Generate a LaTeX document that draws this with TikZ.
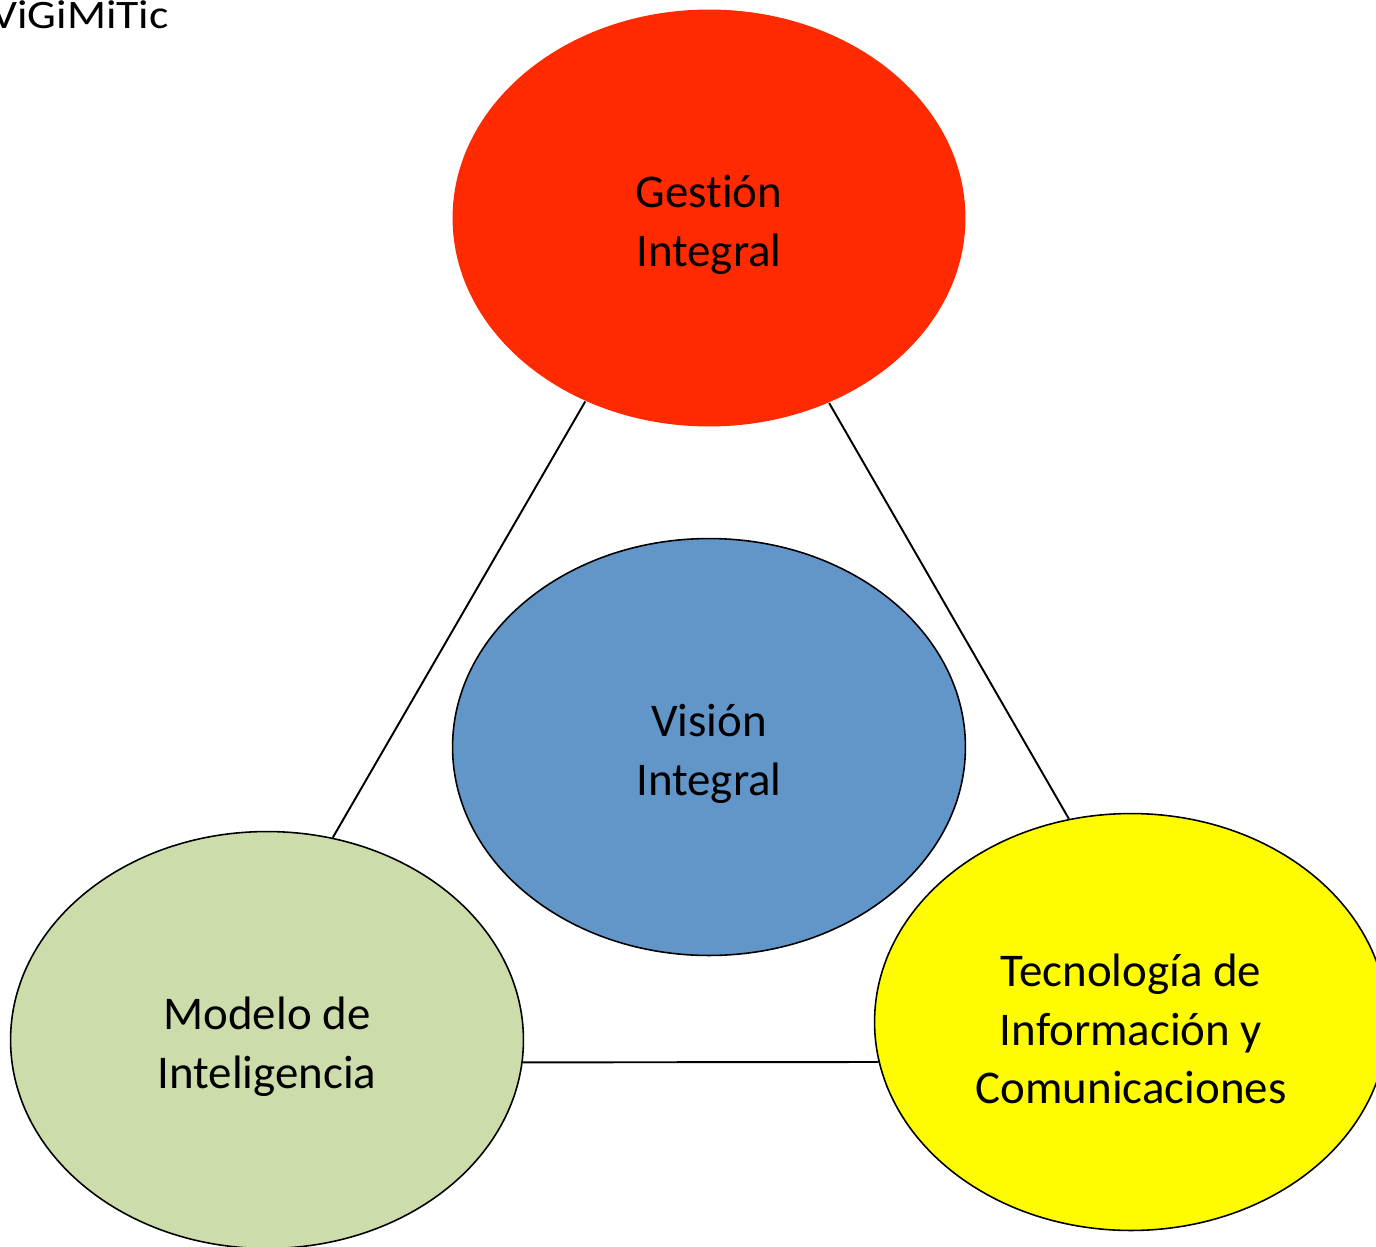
\documentclass[tikz,border=0pt]{standalone}
\usepackage{fontspec}
\setmainfont{Carlito}[Ligatures=NoCommon]
\usepackage{xcolor}
\usepackage{graphicx}
\usetikzlibrary{shapes.geometric}

\definecolor{gestRojo}{RGB}{255,42,0}
\definecolor{visAzul}{RGB}{98,149,200}
\definecolor{modVerde}{RGB}{205,220,171}
\definecolor{ticAmarillo}{RGB}{255,251,0}

\begin{document}
\begin{tikzpicture}[x=0.02cm, y=-0.02cm,
    burbuja/.style={ellipse, minimum width=10.26cm, minimum height=8.34cm,
      inner sep=0pt, line width=0.9pt},
    rotulo/.style={align=center, inner sep=0pt,
      font=\fontsize{26.7}{33.4}\selectfont},
    enlace/.style={line width=1.1pt}]

  \useasboundingbox (0,0) rectangle (1376,1247);
  \clip (0,0) rectangle (1376,1247);

  % titulo arriba a la izquierda
  \node[anchor=base east, inner sep=0pt, font=\fontsize{23}{27}\selectfont]
    (titulo) at (169,29) {\scalebox{1.13}[1]{ViGiMiTic}};

  % las cuatro burbujas
  \node[burbuja, fill=gestRojo] (gest) at (709,218) {};
  \node[burbuja, fill=visAzul, draw] (vis) at (709,747) {};
  \node[burbuja, fill=modVerde, draw] (mod) at (267,1040) {};
  \node[burbuja, fill=ticAmarillo, draw] (tic) at (1131,1022) {};

  % textos, un poco por debajo del centro
  \node[rotulo] (gestTxt) at (709,225) {Gestión\\Integral};
  \node[rotulo] (visTxt) at (709,754) {Visión\\Integral};
  \node[rotulo] (modTxt) at (267,1047) {Modelo de\\Inteligencia};
  \node[rotulo] (ticTxt) at (1131,1029) {Tecnología de\\Información y\\Comunicaciones};

  % lados del triangulo
  \draw[enlace] (gest.236) -- (mod.72);
  \draw[enlace] (gest.303) -- (tic.107);
  \draw[enlace] (mod.-5.6) -- (tic.189.7);

\end{tikzpicture}
\end{document}
